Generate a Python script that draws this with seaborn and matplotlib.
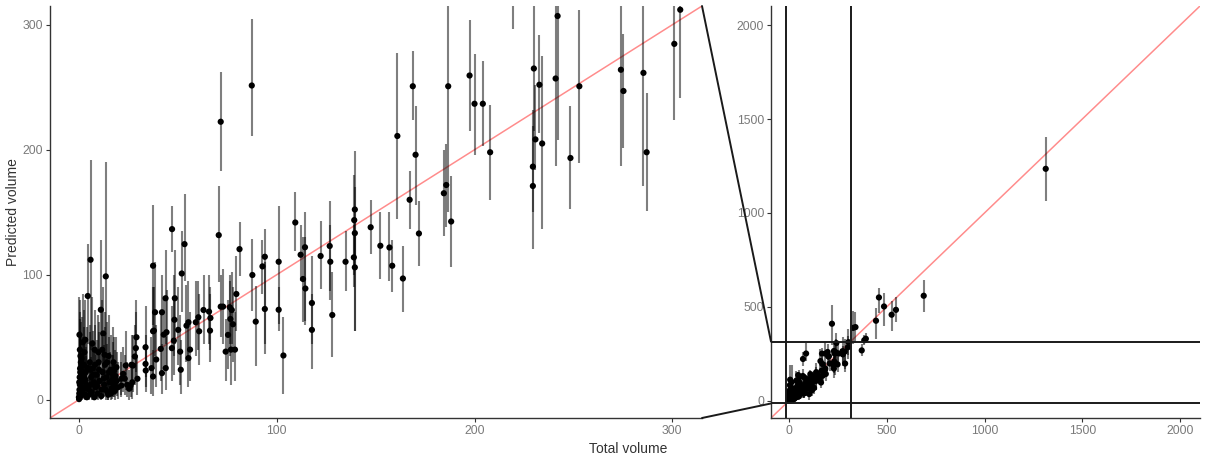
import matplotlib
matplotlib.use("Agg")
import matplotlib.pyplot as plt
from matplotlib.patches import ConnectionPatch
import pandas as pd
import seaborn as sns

# Observed total volume per sample
total = [
    0.0, 0.2, 0.3, 0.5, 0.4, 0.6, 0.5, 0.3, 0.8, 1.0,
    1.2, 1.5, 1.8, 2.0, 2.2, 2.5, 3.0, 3.2, 3.5, 3.8,
    4.5, 5.0, 5.5, 5.9, 6.2, 6.5, 7.0, 7.5, 8.0, 8.4,
    9.0, 9.5, 10.0, 10.5, 11.1, 11.5, 12.0, 12.3, 12.8, 13.2,
    13.6, 14.0, 14.5, 15.0, 15.5, 16.0, 16.5, 17.0, 17.5, 18.0,
    18.5, 19.0, 0.1, 1.0, 2.8, 4.0, 6.8, 9.8, 14.8, 16.8,
    11.8, 7.8, 0.2, 0.7, 1.4, 2.4, 3.4, 4.3, 5.2, 6.0,
    7.2, 8.2, 9.2, 10.2, 11.3, 12.5, 13.5, 14.3, 15.2, 16.2,
    17.2, 18.2, 19.2, 19.8, 0.9, 2.6, 5.8, 8.8, 13.0, 17.8,
    21.5, 21.5, 22.4, 23.2, 23.7, 24.4, 25.4, 26.1, 26.6, 27.4,
    28.3, 28.8, 29.1, 29.6, 27.0, 33.7, 33.7, 33.8, 36.7, 37.5,
    37.5, 38.5, 37.9, 39.1, 37.5,
    41.4, 42.0, 42.0, 42.9, 43.8, 43.9, 44.3, 47.0, 47.1, 48.0,
    48.3, 48.5, 50.2, 51.2, 51.5, 52.0, 53.4, 54.4, 55.4, 56.2,
    55.4, 59.1, 60.4, 60.8, 63.0, 65.8, 66.5, 66.3, 70.7, 71.7,
    71.7, 72.9, 74.2, 75.4, 76.3, 76.6, 77.3, 76.9, 77.9, 78.9,
    79.6, 81.2,
    87.4, 87.7, 89.4, 92.8, 94.0, 94.0, 101.0, 101.0, 103.4, 109.4,
    112.1, 114.3, 113.3, 114.5, 117.8, 117.8, 122.2, 126.8, 127.1, 128.1,
    134.8, 139.5, 139.2, 139.5, 139.0, 139.5, 147.5, 152.4, 157.0, 158.4,
    163.8, 161.0, 167.2, 168.8, 170.2, 171.9, 184.5, 185.7, 188.2, 186.7,
    197.5, 200.0, 204.2, 207.9,
    219.7, 230.0, 230.8, 229.5, 229.5, 232.8, 234.2, 241.0, 242.0, 253.0,
    248.5, 274.0, 275.3, 285.4, 287.0, 301.0, 304.0,
    328, 340, 372, 385, 393, 445, 460, 486, 525, 547,
    689, 1313,
]

# Posterior mean of the predicted volume
predicted = [
    2, 5, 8, 12, 18, 25, 40, 52, 35, 3,
    10, 20, 6, 46, 15, 28, 4, 48, 22, 12,
    83, 8, 30, 112, 18, 6, 25, 14, 40, 10,
    20, 5, 30, 15, 72, 8, 22, 53, 12, 28,
    98.7, 18, 6, 35, 14, 24, 9, 20, 30, 12,
    19, 26, 0.5, 30, 38, 2, 45, 38, 4, 16,
    40, 2, 14, 22, 33, 9, 16, 26, 4, 12,
    20, 28, 11, 24, 3, 17, 8, 30, 22, 5,
    13, 7, 15, 10, 6, 19, 24, 13, 36, 23,
    11.4, 16.8, 20.7, 16.8, 27.4, 12, 8.8, 11.4, 28, 27.4,
    34.6, 41.3, 50, 16.8, 14, 42, 28.7, 23.4, 25.3, 18.6,
    107.2, 70, 55.3, 32.2, 54.8,
    40.7, 70, 21.3, 52.1, 81.2, 25.3, 54, 41.3, 136.5, 47.3,
    64, 81.2, 55.9, 38.5, 24, 101, 124.5, 59.3, 62, 40.1,
    33.3, 62, 66, 54.8, 71.8, 70.5, 65.4, 55.3, 131.7, 222.4,
    74.5, 74.5, 38.5, 51.9, 74, 64.6, 71.8, 40.1, 60.4, 40.1,
    84.6, 120.5,
    251.4, 99.8, 62.5, 106.7, 114.4, 72.6, 110.4, 72, 35.4, 141.8,
    116, 122, 96.6, 89, 77.4, 55.9, 115, 123, 110.4, 67.8,
    110.4, 152.2, 143.7, 133.3, 113.9, 105.9, 138, 123.2, 121.8, 107.2,
    97, 211, 160, 250.8, 196, 133, 165.2, 171.8, 142.6, 250.8,
    259.4, 236.8, 236.8, 198,
    410, 265, 208.3, 186.5, 171, 252, 205, 257, 307, 250.8,
    193.4, 264, 247, 261.5, 198, 284.7, 312,
    388, 392, 268, 322, 330, 426, 550, 502, 458, 484,
    559, 1235,
]

# Lower bound of the prediction interval
lower = [
    0, 0, 1, 2, 3, 5, 15, 25, 10, 0,
    1, 4, 0, 20, 3, 8, 0, 20, 5, 2,
    45, 1, 8, 40, 3, 0, 6, 2, 15, 1,
    4, 0, 8, 3, 30, 1, 5, 20, 2, 8,
    30, 3, 0, 10, 2, 6, 1, 4, 8, 2,
    4, 8, 0, 6, 12, 0, 15, 12, 0, 3,
    12, 0, 2, 5, 10, 1, 3, 7, 0, 2,
    4, 8, 1, 5, 0, 3, 0, 9, 5, 0,
    2, 0, 3, 1, 0, 4, 6, 2, 12, 5,
    2, 4, 6, 4, 8, 2, 0, 2, 8, 6,
    12, 16, 22, 4, 1, 18, 10, 6, 5, 3,
    60, 35, 25, 10, 20,
    15, 40, 5, 25, 45, 8, 25, 15, 118, 20,
    35, 45, 28, 12, 5, 70, 95, 30, 35, 15,
    10, 35, 40, 28, 45, 45, 40, 30, 94, 183,
    50, 45, 15, 25, 45, 35, 45, 12, 30, 15,
    55, 99,
    210.7, 71.3, 27.4, 85, 36.7, 45, 60.7, 55, 4.8, 119,
    95, 60, 62, 63, 45, 25, 88.6, 87, 80, 34,
    87, 112, 100, 55, 90, 55.3, 116.5, 96.6, 95, 86,
    70, 144.5, 136.5, 224, 156, 107, 131, 138, 106, 150,
    215, 196, 203, 160,
    297, 215, 184, 150, 120.5, 213.6, 136.5, 187, 208, 189.7,
    153, 187, 201.7, 171, 151, 224, 241.6,
    300, 310, 240, 296, 305, 330, 465, 400, 370, 420,
    475, 1065,
]

# Upper bound of the prediction interval
upper = [
    12, 20, 30, 40, 55, 70, 80, 82, 65, 15,
    30, 50, 22, 85, 40, 58, 18, 80, 50, 35,
    125, 25, 60, 192, 45, 20, 55, 38, 72, 28,
    48, 18, 62, 40, 128, 25, 50, 90, 35, 58,
    190, 45, 22, 68, 38, 52, 28, 46, 58, 32,
    40, 50, 8, 62, 72, 14, 82, 68, 16, 36,
    80, 12, 40, 52, 66, 28, 42, 58, 16, 34,
    48, 60, 32, 54, 14, 44, 24, 62, 50, 18,
    36, 22, 38, 30, 20, 46, 54, 36, 70, 50,
    30, 38, 42, 36, 55, 30, 24, 28, 52, 52,
    60, 70, 80, 36, 30, 75, 52, 45, 50, 40,
    156, 110, 90, 60, 90,
    70, 100, 45, 82, 120, 50, 88, 75, 155, 80,
    100, 120, 90, 68, 48, 135, 165, 92, 95, 70,
    60, 95, 95, 85, 100, 100, 90, 85, 171, 262,
    100, 105, 65, 80, 100, 95, 102, 70, 90, 70,
    115, 142,
    305, 128.5, 91.2, 128, 136.5, 110, 155, 90, 66, 166,
    140, 150, 130, 130, 115, 85, 143, 159, 140, 102,
    135, 199, 180, 170, 140, 135, 160, 150, 150, 128,
    123, 277.6, 183, 278.8, 235, 159, 200, 205, 179, 314.7,
    304, 277, 270.8, 236,
    511, 318, 252, 232, 219, 292, 274.8, 330, 360, 312,
    235, 340, 293, 330, 245.6, 345, 380,
    480, 475, 300, 352, 358, 495, 600, 575, 530, 555,
    644, 1407,
]

df = pd.DataFrame({"total": total, "predicted": predicted,
                   "lower": lower, "upper": upper})

zoom_lim = (-14.6, 315.0)
full_lim = (-92.0, 2102.0)

sns.set_theme(style="white")
plt.rcParams["font.family"] = ["Liberation Sans", "DejaVu Sans"]

W, H = 1210, 458
fig = plt.figure(figsize=(W / 100, H / 100), dpi=100)
ax_zoom = fig.add_axes([50 / W, 40 / H, (702 - 50) / W, (418 - 6) / H])
ax_full = fig.add_axes([771 / W, 40 / H, (1200 - 771) / W, (418 - 6) / H])

spine_col = "#333333"
tick_col = "#7a7a7a"

for ax, lim, ticks in [(ax_zoom, zoom_lim, [0, 100, 200, 300]),
                       (ax_full, full_lim, [0, 500, 1000, 1500, 2000])]:
    # identity reference line
    ax.plot(lim, lim, color="#ff0000", alpha=0.45, lw=1.1, zorder=1)
    ax.vlines(df["total"], df["lower"], df["upper"],
              color="black", alpha=0.5, lw=1.5, zorder=2)
    sns.scatterplot(data=df, x="total", y="predicted", ax=ax,
                    color="black", s=20, edgecolor="none", zorder=3,
                    legend=False)
    ax.set_xlim(lim)
    ax.set_ylim(lim)
    ax.set_xticks(ticks)
    ax.set_yticks(ticks)
    ax.set_xlabel("")
    ax.set_ylabel("")
    for side in ["top", "right"]:
        ax.spines[side].set_visible(False)
    for side in ["left", "bottom"]:
        ax.spines[side].set_color(spine_col)
        ax.spines[side].set_linewidth(1.0)
    ax.tick_params(axis="both", which="both", direction="out", length=3,
                   width=0.8, color=spine_col, labelcolor=tick_col,
                   labelsize=8.8, pad=2, left=True, bottom=True)

# outline of the zoomed window on the full-range panel
box_kw = dict(color="#1a1a1a", lw=1.4, zorder=4)
for v in zoom_lim:
    ax_full.axvline(v, **box_kw)
    ax_full.axhline(v, **box_kw)

# connectors from the zoomed panel's right corners to the window
for yv in zoom_lim:
    con = ConnectionPatch(xyA=(zoom_lim[1], yv), coordsA=ax_zoom.transData,
                          xyB=(full_lim[0], yv), coordsB=ax_full.transData,
                          color="#1a1a1a", lw=1.4)
    con.set_clip_on(False)
    fig.add_artist(con)

fig.text(628 / W, 1 - 449 / H, "Total volume", ha="center", va="center",
         fontsize=10, color="#333333")
fig.text(13 / W, 1 - 212 / H, "Predicted volume", ha="center", va="center",
         rotation=90, fontsize=10, color="#333333")

fig.savefig("out.png", dpi=100, facecolor="white")
